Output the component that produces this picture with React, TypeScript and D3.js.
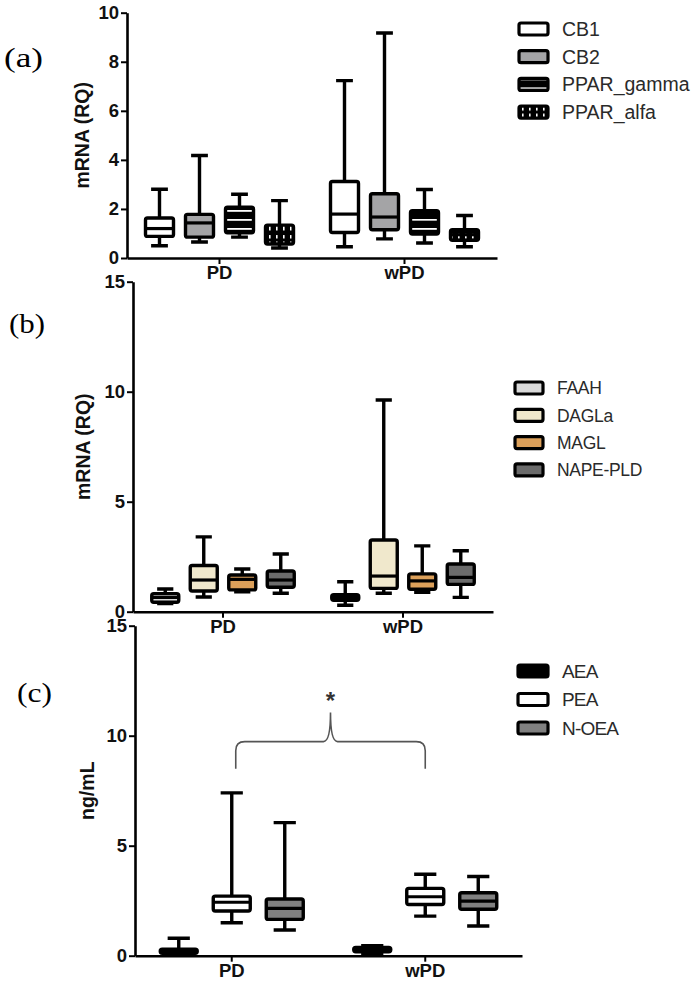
import { useEffect, useRef } from "react";
import * as d3 from "d3";

// groups shared by all three panels
const groups = ["PD", "wPD"];

// each box: [min, q1, median, q3, max]
// (a) receptors
const receptorNames = ["CB1", "CB2", "PPAR_gamma", "PPAR_alfa"];
const receptorPD = [
  [0.5, 0.88, 1.2, 1.63, 2.8],
  [0.65, 0.85, 1.43, 1.78, 4.18],
  [0.85, 1.03, 1.4, 2.07, 2.6],
  [0.41, 0.57, 1.0, 1.34, 2.34],
];
const receptorWPD = [
  [0.46, 1.04, 1.79, 3.12, 7.23],
  [0.78, 1.15, 1.67, 2.62, 9.17],
  [0.61, 0.98, 1.45, 1.93, 2.79],
  [0.46, 0.72, 0.95, 1.15, 1.73],
];
const receptorTicks = [0, 2, 4, 6, 8, 10];
const receptorFills = ["#ffffff", "#a4a4a6", "url(#hstripe)", "url(#vdash)"];

// (b) enzymes
const enzymeNames = ["FAAH", "DAGLa", "MAGL", "NAPE-PLD"];
const enzymePD = [
  [0.37, 0.43, 0.65, 0.82, 1.03],
  [0.67, 0.94, 1.44, 2.1, 3.4],
  [0.91, 0.99, 1.47, 1.67, 1.94],
  [0.84, 1.11, 1.44, 1.85, 2.62],
];
const enzymeWPD = [
  [0.29, 0.52, 0.65, 0.77, 1.36],
  [0.84, 1.06, 1.62, 3.26, 9.62],
  [0.88, 1.02, 1.4, 1.72, 2.99],
  [0.65, 1.24, 1.56, 2.17, 2.77],
];
const enzymeTicks = [0, 5, 10, 15];
const enzymeFills = ["#d9d9d9", "#f0e8cc", "#dca05a", "#6b6b6b"];

// (c) lipids
const lipidNames = ["AEA", "PEA", "N-OEA"];
const lipidPD = [
  [0.05, 0.11, 0.2, 0.29, 0.79],
  [1.5, 2.03, 2.43, 2.71, 7.4],
  [1.17, 1.65, 2.15, 2.58, 6.05],
];
const lipidWPD = [
  [0.1, 0.18, 0.28, 0.38, 0.45],
  [1.8, 2.33, 2.68, 3.06, 3.7],
  [1.35, 2.11, 2.48, 2.86, 3.6],
];
const lipidTicks = [0, 5, 10, 15];
const lipidFills = ["#000000", "#ffffff", "#808080"];
// significance bracket: [leg bottom, bar, peak, star]
const bracketLevels = [8.5, 9.73, 11.05, 11.7];

const FONT = "'Liberation Sans', Arial, sans-serif";

const panels = [
  {
    tag: "(a)", tagX: 4, tagY: 67, tagW: 39,
    names: receptorNames, pd: receptorPD, wpd: receptorWPD, ticks: receptorTicks, fills: receptorFills,
    domain: [0, 10], x0: 127, x1: 497, y0: 258, y1: 12.7, spread: 80, boxW: 28,
    title: "mRNA (RQ)", titleX: 82,
    legX: 519, legY: 29, legStep: 27.7, legW: 29, legH: 12, legFont: 19.5, legSpacing: 0,
  },
  {
    tag: "(b)", tagX: 9, tagY: 333, tagW: 36,
    names: enzymeNames, pd: enzymePD, wpd: enzymeWPD, ticks: enzymeTicks, fills: enzymeFills,
    domain: [0, 15], x0: 133, x1: 493, y0: 611.7, y1: 281.7, spread: 77, boxW: 27,
    title: "mRNA (RQ)", titleX: 83,
    legX: 515, legY: 388, legStep: 27.3, legW: 28, legH: 12, legFont: 17.5, legSpacing: -0.3,
  },
  {
    tag: "(c)", tagX: 17, tagY: 702, tagW: 35,
    names: lipidNames, pd: lipidPD, wpd: lipidWPD, ticks: lipidTicks, fills: lipidFills,
    domain: [0, 15], x0: 135, x1: 522, y0: 955.7, y1: 625.7, spread: 79.5, boxW: 37,
    title: "ng/mL", titleX: 87,
    legX: 518, legY: 671, legStep: 28.5, legW: 30, legH: 12, legFont: 19, legSpacing: -0.8,
  },
];

const drawPanel = (svg, p, withBracket) => {
  const g = svg.append("g");
  const x = d3.scaleBand().domain(groups).range([p.x0, p.x1]);
  const inner = d3.scaleBand().domain(p.names).range([-p.spread, p.spread]);
  const y = d3.scaleLinear().domain(p.domain).range([p.y0, p.y1]);
  const cx = (grp, name) =>
    x(grp) + x.bandwidth() / 2 + inner(name) + inner.bandwidth() / 2;

  // axes
  const yAxis = d3.axisLeft(y).tickValues(p.ticks).tickSize(6).tickSizeOuter(0).tickPadding(2);
  const ya = g.append("g").attr("transform", `translate(${p.x0},0)`).call(yAxis);
  const xAxis = d3.axisBottom(x).tickSize(6).tickSizeOuter(0).tickPadding(2);
  const xa = g.append("g").attr("transform", `translate(0,${p.y0})`).call(xAxis);
  [ya, xa].forEach((a) => {
    a.select(".domain").attr("stroke", "#000").attr("stroke-width", 2.6);
    a.selectAll(".tick line").attr("stroke", "#000").attr("stroke-width", 2);
    a.selectAll(".tick text")
      .attr("fill", "#111")
      .attr("font-family", FONT)
      .attr("font-weight", "bold")
      .attr("font-size", 18.5);
  });

  // y title
  g.append("text")
    .attr("transform", `translate(${p.titleX},${(p.y0 + p.y1) / 2}) rotate(-90)`)
    .attr("text-anchor", "middle")
    .attr("dominant-baseline", "central")
    .attr("font-family", FONT)
    .attr("font-weight", "bold")
    .attr("font-size", 19.5)
    .attr("fill", "#111")
    .text(p.title);

  // panel tag
  g.append("text")
    .attr("x", p.tagX)
    .attr("y", p.tagY)
    .attr("font-family", "'Liberation Serif', 'Times New Roman', serif")
    .attr("font-size", 28)
    .attr("textLength", p.tagW)
    .attr("lengthAdjust", "spacingAndGlyphs")
    .text(p.tag);

  const rows = groups.flatMap((grp, gi) =>
    p.names.map((name, si) => ({ grp, name, si, s: (gi === 0 ? p.pd : p.wpd)[si] }))
  );
  const capW = p.boxW * 0.6;

  const boxes = g.selectAll(".box").data(rows).join("g").attr("class", "box");
  // whiskers
  boxes.append("path")
    .attr("d", (d) => {
      const c = cx(d.grp, d.name);
      return `M${c},${y(d.s[0])}V${y(d.s[1])}M${c},${y(d.s[3])}V${y(d.s[4])}` +
        `M${c - capW / 2},${y(d.s[0])}H${c + capW / 2}M${c - capW / 2},${y(d.s[4])}H${c + capW / 2}`;
    })
    .attr("stroke", "#000")
    .attr("stroke-width", 3.4)
    .attr("fill", "none");
  boxes.append("rect")
    .attr("x", (d) => cx(d.grp, d.name) - p.boxW / 2)
    .attr("y", (d) => y(d.s[3]))
    .attr("width", p.boxW)
    .attr("height", (d) => y(d.s[1]) - y(d.s[3]))
    .attr("rx", 2)
    .attr("fill", (d) => p.fills[d.si])
    .attr("stroke", "#000")
    .attr("stroke-width", 3.4)
    .attr("stroke-linejoin", "round");
  boxes.append("line")
    .attr("x1", (d) => cx(d.grp, d.name) - p.boxW / 2)
    .attr("x2", (d) => cx(d.grp, d.name) + p.boxW / 2)
    .attr("y1", (d) => y(d.s[2]))
    .attr("y2", (d) => y(d.s[2]))
    .attr("stroke", "#000")
    .attr("stroke-width", 3.2);

  // legend
  const leg = g.selectAll(".leg").data(p.names).join("g").attr("class", "leg")
    .attr("transform", (d, i) => `translate(${p.legX},${p.legY + i * p.legStep})`);
  leg.append("rect")
    .attr("x", 0)
    .attr("y", -p.legH / 2)
    .attr("width", p.legW)
    .attr("height", p.legH)
    .attr("rx", 2)
    .attr("fill", (d, i) => p.fills[i])
    .attr("stroke", "#000")
    .attr("stroke-width", 3.2);
  leg.append("text")
    .attr("x", p.legW + 14)
    .attr("y", p.legFont * 0.36)
    .attr("font-family", FONT)
    .attr("font-size", p.legFont)
    .attr("letter-spacing", p.legSpacing)
    .attr("fill", "#2a2a2a")
    .text((d) => d);

  if (withBracket) {
    const bx1 = cx("PD", "PEA") + 4;
    const bx2 = cx("wPD", "PEA");
    const bm = (bx1 + bx2) / 2;
    const [lb, lh, lp, ls] = bracketLevels.map((v) => y(v));
    const r = 9;
    const path = d3.path();
    path.moveTo(bx1, lb);
    path.lineTo(bx1, lh + r);
    path.quadraticCurveTo(bx1, lh, bx1 + r, lh);
    path.lineTo(bm - 7, lh);
    path.quadraticCurveTo(bm, lh, bm, lp);
    path.quadraticCurveTo(bm, lh, bm + 7, lh);
    path.lineTo(bx2 - r, lh);
    path.quadraticCurveTo(bx2, lh, bx2, lh + r);
    path.lineTo(bx2, lb);
    g.append("path")
      .attr("d", path.toString())
      .attr("fill", "none")
      .attr("stroke", "#555")
      .attr("stroke-width", 1.6);
    g.append("text")
      .attr("x", bm)
      .attr("y", ls + 11)
      .attr("text-anchor", "middle")
      .attr("font-family", FONT)
      .attr("font-weight", "bold")
      .attr("font-size", 24)
      .attr("fill", "#333")
      .text("*");
  }
};

export default function App() {
  const svgRef = useRef(null);

  useEffect(() => {
    const svg = d3.select(svgRef.current);
    svg.selectAll("*").remove();

    // fill patterns for the PPAR boxes
    const defs = svg.append("defs");
    const hs = defs.append("pattern").attr("id", "hstripe")
      .attr("patternUnits", "userSpaceOnUse").attr("width", 6).attr("height", 9);
    hs.append("rect").attr("width", 6).attr("height", 9).attr("fill", "#000");
    hs.append("rect").attr("y", 3).attr("width", 6).attr("height", 1.8).attr("fill", "#fff");
    const vd = defs.append("pattern").attr("id", "vdash")
      .attr("patternUnits", "userSpaceOnUse").attr("width", 7).attr("height", 8);
    vd.append("rect").attr("width", 7).attr("height", 8).attr("fill", "#000");
    vd.append("rect").attr("x", 3).attr("y", 1.5).attr("width", 1.6).attr("height", 5).attr("fill", "#fff");

    panels.forEach((p, i) => drawPanel(svg, p, i === 2));
  }, []);

  return (
    <div style={{ position: "absolute", left: 0, top: 0 }}>
      <svg ref={svgRef} width={697} height={992} style={{ display: "block", background: "#fff" }} />
    </div>
  );
}
